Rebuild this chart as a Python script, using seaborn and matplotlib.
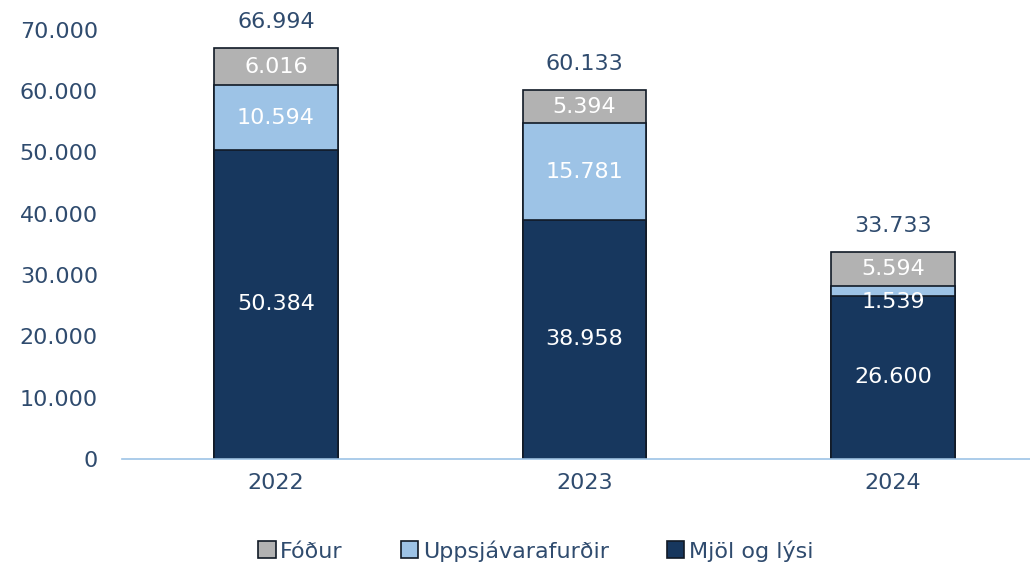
import pandas as pd
import matplotlib.pyplot as plt
import seaborn as sns

# --- Data ---
years = ["2022", "2023", "2024"]
mjol = [50384, 38958, 26600]
uppsjavar = [10594, 15781, 1539]
fodur = [6016, 5394, 5594]
totals = [66994, 60133, 33733]

# --- Colors ---
c_mjol = "#17375E"
c_upps = "#9DC3E6"
c_fodur = "#B2B2B2"
c_text = "#2F4B6E"
c_edge = "#111a26"

df = pd.DataFrame({"year": years, "mjol": mjol, "upps": uppsjavar, "fodur": fodur})
df["lvl2"] = df["mjol"] + df["upps"]
df["lvl3"] = df["lvl2"] + df["fodur"]

sns.set_style("white")
plt.rcParams["font.family"] = ["DejaVu Sans"]

fig = plt.figure(figsize=(10.3, 5.65), dpi=100)
ax = fig.add_axes([0.118, 0.188, 0.882, 0.759])

# stacked bars drawn as layered cumulative heights
sns.barplot(data=df, x="year", y="lvl3", color=c_fodur, width=0.4,
            edgecolor=c_edge, linewidth=1.2, saturation=1, ax=ax, label="Fóður")
sns.barplot(data=df, x="year", y="lvl2", color=c_upps, width=0.4,
            edgecolor=c_edge, linewidth=1.2, saturation=1, ax=ax, label="Uppsjávarafurðir")
sns.barplot(data=df, x="year", y="mjol", color=c_mjol, width=0.4,
            edgecolor=c_edge, linewidth=1.2, saturation=1, ax=ax, label="Mjöl og lýsi")

def fmt(v):
    return f"{v:,}".replace(",", ".")

for i in range(len(years)):
    ax.text(i, mjol[i] / 2, fmt(mjol[i]), ha="center", va="center", color="white", fontsize=16)
    if uppsjavar[i] < 3000:
        y_u = mjol[i] - 1000
    else:
        y_u = mjol[i] + uppsjavar[i] / 2
    ax.text(i, y_u, fmt(uppsjavar[i]), ha="center", va="center", color="white", fontsize=16)
    ax.text(i, mjol[i] + uppsjavar[i] + fodur[i] / 2, fmt(fodur[i]), ha="center", va="center",
            color="white", fontsize=16)
    ax.text(i, totals[i] + 4300, fmt(totals[i]), ha="center", va="center", color=c_text,
            fontsize=16, clip_on=False)

ax.set_ylim(0, 70000)
ax.set_xlim(-0.5, 2.444)
ax.set_yticks(range(0, 70001, 10000))
ax.set_yticklabels([fmt(v) for v in range(0, 70001, 10000)])
ax.tick_params(axis="both", labelsize=16, colors=c_text, length=0, pad=10)
ax.tick_params(axis="y", pad=17)
ax.set_xlabel("")
ax.set_ylabel("")

for s in ["top", "right", "left"]:
    ax.spines[s].set_visible(False)
ax.spines["bottom"].set_color(c_upps)
ax.spines["bottom"].set_linewidth(1.2)

handles, labels = ax.get_legend_handles_labels()
if ax.get_legend() is not None:
    ax.get_legend().remove()
leg = fig.legend(handles, labels, loc="center", bbox_to_anchor=(0.52, 0.025), ncol=3,
                 frameon=False, fontsize=16, handlelength=0.8, handleheight=0.8,
                 handletextpad=0.2, columnspacing=2.6)
for t in leg.get_texts():
    t.set_color(c_text)

fig.savefig("out.png", dpi=100)
